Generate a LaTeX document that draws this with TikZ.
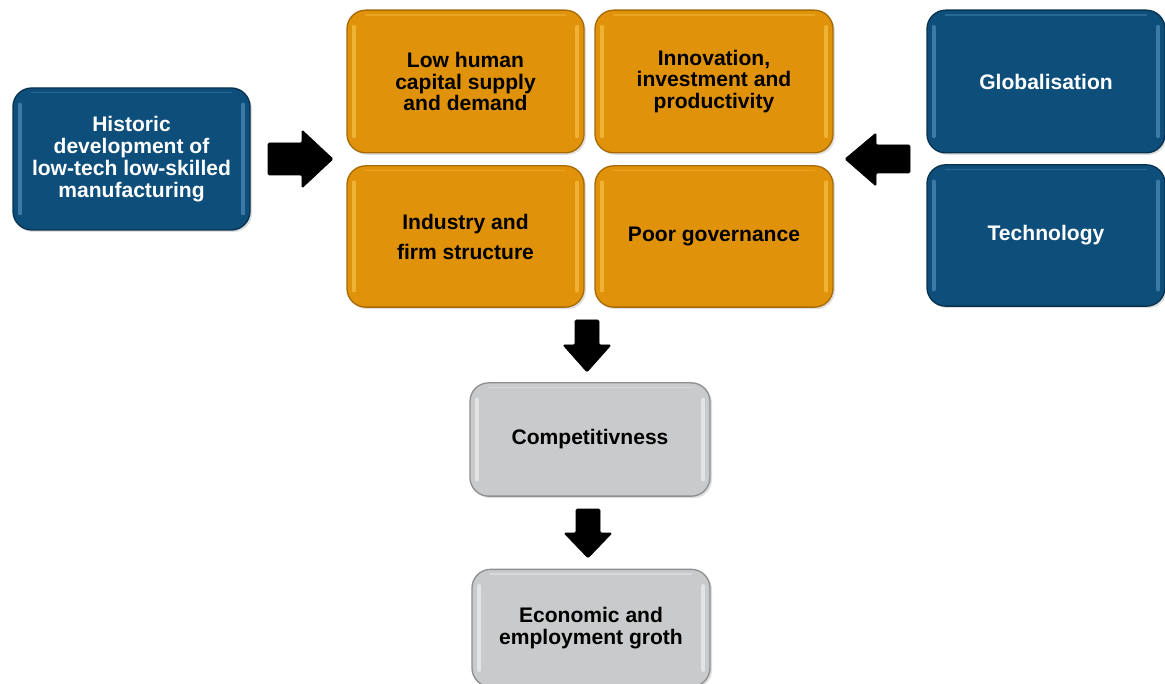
\documentclass[tikz,border=0pt]{standalone}
\usepackage{fontspec}
\setmainfont{Liberation Sans}
\usetikzlibrary{shadows}
\definecolor{bluef}{HTML}{0E4E7B}
\definecolor{blued}{HTML}{08334F}
\definecolor{bluel}{HTML}{5A98C4}
\definecolor{orf}{HTML}{E0930A}
\definecolor{ord}{HTML}{A86A05}
\definecolor{orl}{HTML}{FAC84E}
\definecolor{grf}{HTML}{C9CACB}
\definecolor{grd}{HTML}{8E8F90}
\definecolor{grl}{HTML}{F5F5F5}
\tikzset{
  x=0.75pt, y=-0.75pt,
  box/.style={rounded corners=14pt, line width=1pt, align=center, inner sep=2pt,
    font=\bfseries\fontsize{15.8pt}{16.4pt}\selectfont,
    drop shadow={opacity=0.25, shadow xshift=1.5pt, shadow yshift=-1.5pt}},
  bluebox/.style={box, fill=bluef, draw=blued, text=white},
  orbox/.style={box, fill=orf, draw=ord, text=black},
  grbox/.style={box, fill=grf, draw=grd, text=black},
  hl/.style={line width=3pt, opacity=0.6, line cap=round},
  blockarrow/.style={fill=black, draw=black, line width=0.5pt, rounded corners=1pt}
}
\newcommand{\hlbox}[2]{%
  \draw[hl, draw=#2] ([xshift=5.5pt,yshift=-13pt]#1.north west) -- ([xshift=5.5pt,yshift=13pt]#1.south west);
  \draw[hl, draw=#2] ([xshift=-5.5pt,yshift=-13pt]#1.north east) -- ([xshift=-5.5pt,yshift=13pt]#1.south east);
  \draw[line width=1.2pt, opacity=0.35, draw=#2] ([xshift=14pt,yshift=-4pt]#1.north west) -- ([xshift=-14pt,yshift=-4pt]#1.north east);}
\begin{document}
\begin{tikzpicture}
\useasboundingbox[fill=white] (0,0) rectangle (1165,684);
% left box
\node[bluebox, minimum width=177.75pt, minimum height=106.5pt] (hist) at (131.5,159)
  {Historic\\development of\\low-tech low-skilled\\manufacturing};
% orange grid
\node[orbox, minimum width=177.75pt, minimum height=107pt] (low) at (465.5,81.5)
  {Low human\\capital supply\\and demand};
\node[orbox, minimum width=178.5pt, minimum height=107pt] (innov) at (714,81.5)
  {Innovation,\\investment and\\productivity};
\node[orbox, minimum width=177.75pt, minimum height=106pt, font=\bfseries\fontsize{15.8pt}{22.5pt}\selectfont] (ind) at (465.5,236.5)
  {Industry and\\firm structure};
\node[orbox, minimum width=178.5pt, minimum height=106pt] (poor) at (714,236.5)
  {Poor governance};
% right boxes
\node[bluebox, minimum width=178.5pt, minimum height=107pt] (glob) at (1046,81.5)
  {Globalisation};
\node[bluebox, minimum width=178.5pt, minimum height=106pt] (tech) at (1046,235.5)
  {Technology};
% grey boxes
\node[grbox, minimum width=180pt, minimum height=85pt] (comp) at (590,439.5)
  {Competitivness};
\node[grbox, minimum width=178.5pt, minimum height=88pt] (econ) at (591,628)
  {Economic and\\employment groth};
% highlights
\foreach \n in {hist,glob,tech} {\hlbox{\n}{bluel}}
\foreach \n in {low,innov,ind,poor} {\hlbox{\n}{orl}}
\foreach \n in {comp,econ} {\hlbox{\n}{grl}}
% block arrows
\draw[blockarrow] (268,143) -- (302,143) -- (302,130) -- (333,159) -- (302,188) -- (302,175) -- (268,175) -- cycle;
\draw[blockarrow] (910,145) -- (876,145) -- (876,133) -- (845,159) -- (876,186) -- (876,173) -- (910,173) -- cycle;
\draw[blockarrow] (575,320) -- (599,320) -- (599,345) -- (611,345) -- (587,372) -- (563,345) -- (575,345) -- cycle;
\draw[blockarrow] (576,509) -- (600,509) -- (600,533) -- (612,533) -- (588,558) -- (564,533) -- (576,533) -- cycle;
\end{tikzpicture}
\end{document}
